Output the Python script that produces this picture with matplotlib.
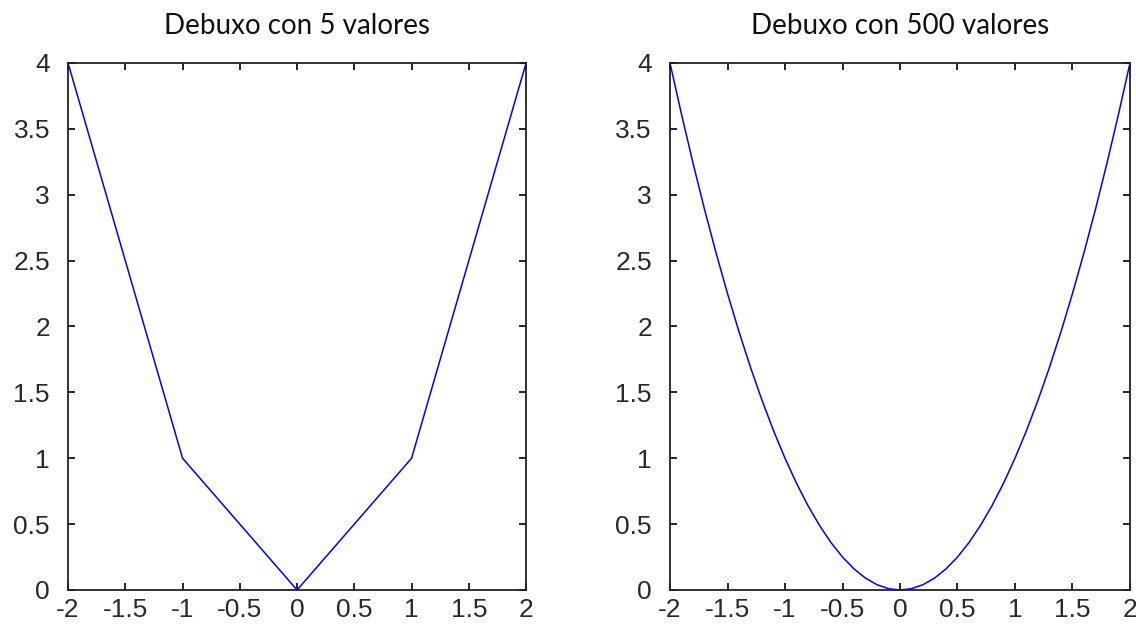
import matplotlib
matplotlib.use("Agg")
import matplotlib.pyplot as plt

x5 = [-2, -1, 0, 1, 2]
y5 = [4, 1, 0, 1, 4]

# curva da dereita (puntos lidos cada 0.1)
x500 = [-2.0, -1.9, -1.8, -1.7, -1.6, -1.5, -1.4, -1.3, -1.2, -1.1, -1.0,
        -0.9, -0.8, -0.7, -0.6, -0.5, -0.4, -0.3, -0.2, -0.1, 0.0,
        0.1, 0.2, 0.3, 0.4, 0.5, 0.6, 0.7, 0.8, 0.9, 1.0,
        1.1, 1.2, 1.3, 1.4, 1.5, 1.6, 1.7, 1.8, 1.9, 2.0]
y500 = [4.0, 3.61, 3.24, 2.89, 2.56, 2.25, 1.96, 1.69, 1.44, 1.21, 1.0,
        0.81, 0.64, 0.49, 0.36, 0.25, 0.16, 0.09, 0.04, 0.01, 0.0,
        0.01, 0.04, 0.09, 0.16, 0.25, 0.36, 0.49, 0.64, 0.81, 1.0,
        1.21, 1.44, 1.69, 1.96, 2.25, 2.56, 2.89, 3.24, 3.61, 4.0]

titulos = ["Debuxo con 5 valores", "Debuxo con 500 valores"]
xticks = [-2, -1.5, -1, -0.5, 0, 0.5, 1, 1.5, 2]
yticks = [0, 0.5, 1, 1.5, 2, 2.5, 3, 3.5, 4]

fig = plt.figure(figsize=(11.36, 6.3), dpi=100)
ax1 = fig.add_axes([0.0599, 0.0635, 0.4032, 0.8365])
ax2 = fig.add_axes([0.5898, 0.0635, 0.4049, 0.8365])

for ax, xs, ys, t in [(ax1, x5, y5, titulos[0]), (ax2, x500, y500, titulos[1])]:
    ax.plot(xs, ys, color="#0000ff", linewidth=1.1, clip_on=False)
    ax.set_xlim(-2, 2)
    ax.set_ylim(0, 4)
    ax.set_xticks(xticks)
    ax.set_yticks(yticks)
    ax.set_xticklabels(["%g" % v for v in xticks])
    ax.set_yticklabels(["%g" % v for v in yticks])
    ax.tick_params(direction="in", top=True, right=True, length=5, width=1.2,
                   labelsize=19, labelcolor="#2a2a2a")
    ax.tick_params(axis="y", pad=13)
    ax.tick_params(axis="x", pad=6)
    for lab in ax.get_xticklabels() + ax.get_yticklabels():
        lab.set_family("Liberation Sans")
    for s in ax.spines.values():
        s.set_linewidth(1.3)
        s.set_color("#222222")
    ax.set_title(t, fontsize=20, family="Lato", pad=21, color="#111111")

fig.savefig("out.png", dpi=100)
